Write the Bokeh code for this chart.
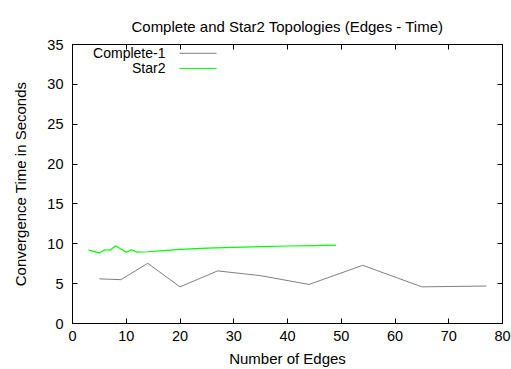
from bokeh.plotting import figure
from bokeh.models import (LinearAxis, Label, Arrow, Range1d, FixedTicker,
                          CustomLabelingPolicy)
from bokeh.embed import file_html
from bokeh.resources import INLINE

# Convergence time (s) against number of edges
complete_edges = [5, 9, 14, 20, 27, 35, 44, 54, 65, 77]
complete_time = [5.6, 5.5, 7.55, 4.6, 6.6, 6.0, 4.9, 7.3, 4.6, 4.7]

star2_edges = [3, 5, 6, 7, 8, 10, 11, 12, 14, 17, 20, 25, 30, 35, 40, 45, 49]
star2_time = [9.2, 8.85, 9.25, 9.2, 9.75, 8.95, 9.25, 8.95, 9.0, 9.15, 9.3,
              9.45, 9.55, 9.65, 9.72, 9.78, 9.82]

x_ticks = [0, 10, 20, 30, 40, 50, 60, 70, 80]
y_ticks = [0, 5, 10, 15, 20, 25, 30, 35]

FONT = "Liberation Sans"

p = figure(width=511, height=369, output_backend="svg", toolbar_location=None,
           x_range=Range1d(0, 80), y_range=Range1d(0, 35),
           min_border_left=72, min_border_right=9, min_border_top=44,
           min_border_bottom=44,
           title="Complete and Star2 Topologies (Edges - Time)")

p.title.align = "center"
p.title.text_font = FONT
p.title.text_font_style = "normal"
p.title.text_font_size = "15px"
p.title.text_color = "black"
p.title.standoff = 20

p.xgrid.visible = False
p.ygrid.visible = False
p.outline_line_color = "black"
p.outline_line_width = 1
p.background_fill_color = "white"
p.border_fill_color = "white"

# mirrored axes carry tick marks only
no_labels = CustomLabelingPolicy(code="""
    if (indices.clear) { indices.clear() }
    else { for (const i of Array.from(indices)) { indices.unset(i) } }
    return indices
""")


def style_axis(ax, ticks, show_labels=True):
    ax.ticker = FixedTicker(ticks=ticks)
    ax.axis_line_color = "black"
    ax.major_tick_in = 5
    ax.major_tick_out = 0
    ax.minor_tick_line_color = None
    ax.major_tick_line_color = "black"
    ax.major_label_text_font = FONT
    ax.major_label_text_color = "black"
    if show_labels:
        ax.major_label_text_font_size = "14.5px"
    else:
        ax.major_label_text_font_size = "0px"
        ax.major_label_policy = no_labels
        ax.major_label_standoff = 0
    ax.axis_label_text_font = FONT
    ax.axis_label_text_font_size = "15px"
    ax.axis_label_text_font_style = "normal"
    ax.axis_label_text_color = "black"


style_axis(p.xaxis[0], x_ticks)
p.xaxis[0].axis_label = "Number of Edges"
p.xaxis[0].major_label_standoff = 7
p.xaxis[0].axis_label_standoff = 6

style_axis(p.yaxis[0], y_ticks)
p.yaxis[0].axis_label = "Convergence Time in Seconds"
p.yaxis[0].major_label_standoff = 9
p.yaxis[0].axis_label_standoff = 15

top_axis = LinearAxis()
style_axis(top_axis, x_ticks, show_labels=False)
p.add_layout(top_axis, "above")

right_axis = LinearAxis()
style_axis(right_axis, y_ticks, show_labels=False)
p.add_layout(right_axis, "right")

p.line(complete_edges, complete_time, line_color="#808080", line_width=1)
p.line(star2_edges, star2_time, line_color="#00ff00", line_width=1.2)

# Key in the upper-left corner: name first, then a line sample
key = [("Complete-1", "#808080", 33.9), ("Star2", "#00ff00", 32.0)]
for name, color, ky in key:
    p.add_layout(Label(x=17.3, y=ky, text=name, text_align="right",
                       text_baseline="middle", text_font=FONT,
                       text_font_size="14px", text_color="black"))
    p.add_layout(Arrow(end=None, x_start=19.9, y_start=ky, x_end=26.8,
                       y_end=ky, line_color=color, line_width=1))

open("out.html", "w").write(file_html(p, INLINE))
